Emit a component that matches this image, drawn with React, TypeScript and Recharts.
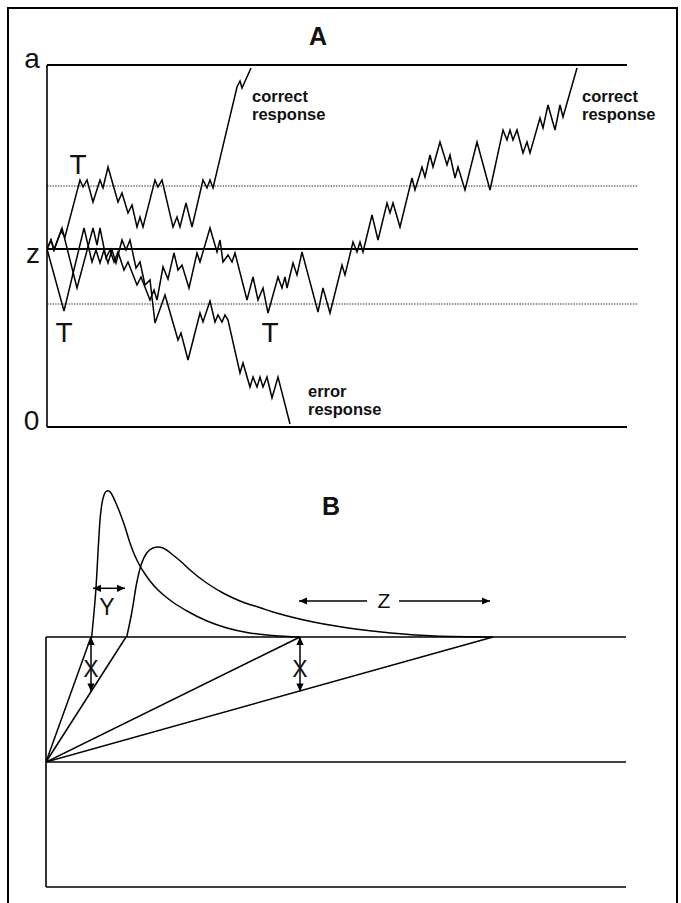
import React from "react";
import { LineChart, Line, XAxis, YAxis, ReferenceLine, ReferenceDot } from "recharts";

// ---------- Panel A: diffusion (random-walk) sample paths ----------
// time units (t) and evidence units (v); boundaries: 0 (error), a (correct), start z
const boundaryA = 362;
const startZ = 178;
const criterionUpper = 241;
const criterionLower = 123;
const timeEndBoundary = 580;
const timeEndMid = 591;

// path that crosses the upper criterion early and ends at "correct response"
const walkCorrectFast: [number, number][] = [
  [0, 178], [4, 187], [7, 177], [14, 196], [18, 190], [33, 247], [36, 240], [40, 247], [46, 225],
  [53, 247], [56, 239], [61, 260], [71, 225], [75, 234], [81, 214], [85, 222], [90, 200], [93, 210],
  [96, 200], [108, 247], [111, 240], [115, 247], [126, 200], [130, 210], [133, 200], [139, 224],
  [145, 200], [156, 247], [160, 239], [163, 247], [166, 239], [190, 340], [193, 346], [195, 339], [204, 359],
];

// path that crosses the lower criterion early and ends at "error response"
const walkError: [number, number][] = [
  [0, 178], [17, 116], [37, 199], [45, 165], [49, 177], [53, 164], [57, 177], [61, 164], [65, 177],
  [69, 164], [75, 187], [79, 177], [83, 187], [89, 159], [93, 165], [98, 142], [103, 147], [108, 104],
  [118, 132], [131, 87], [134, 94], [141, 67], [153, 114], [156, 105], [163, 126], [168, 105],
  [171, 112], [175, 105], [178, 112], [181, 107], [193, 54], [196, 64], [203, 40], [206, 50],
  [210, 40], [213, 50], [216, 40], [220, 50], [225, 29], [231, 50], [243, 3],
];

// slow path: crosses lower criterion late, then ends at "correct response"
const walkCorrectSlow: [number, number][] = [
  [0, 178], [4, 187], [7, 177], [15, 199], [30, 139], [46, 199], [50, 182], [53, 199], [59, 169],
  [63, 177], [67, 165], [71, 175], [77, 157], [81, 165], [90, 142], [94, 150], [103, 127], [107, 137],
  [110, 127], [116, 160], [121, 148], [127, 174], [131, 157], [135, 162], [142, 139], [150, 174],
  [153, 165], [163, 199], [170, 175], [173, 187], [176, 165], [181, 172], [185, 165], [188, 174],
  [200, 127], [206, 150], [211, 127], [216, 139], [221, 114], [231, 150], [235, 139], [238, 150],
  [240, 139], [246, 164], [250, 152], [255, 175], [271, 115], [276, 139], [283, 114], [295, 162],
  [298, 152], [306, 185], [310, 175], [313, 185], [316, 175], [325, 212], [331, 187], [340, 224],
  [343, 214], [346, 224], [353, 200], [365, 249], [368, 237], [375, 260], [378, 250], [383, 272],
  [386, 260], [393, 285], [400, 262], [403, 272], [408, 249], [411, 260], [418, 237], [430, 285],
  [443, 237], [456, 297], [460, 287], [463, 297], [466, 287], [470, 297], [476, 274], [480, 285],
  [483, 274], [493, 309], [496, 299], [501, 322], [508, 297], [513, 322], [516, 310], [530, 359],
];

// label anchors (t, v) for panel A
const titleA: [number, number] = [271, 382];
const boundaryLabels = ["a", "z", "0"];
const boundaryLabelPos: [number, number][] = [[-15, 359], [-14, 164], [-15.5, -3]];
const tLabelPos: [number, number][] = [[31, 253], [17, 85], [223, 85]];
const correctLabelPos: [number, number][] = [[205, 325], [535, 325]];
const errorLabelPos: [number, number] = [261, 30];

// ---------- Panel B: RT distributions and drift fan ----------
const boundaryB = 250;
const startB = 125;
const timeEndB = 580;
const fanEnds = [45, 80, 254, 447];

const densityFast: [number, number][] = [
  [45.7, 250], [47.3, 267], [50, 299], [52.3, 340], [54, 367], [55.7, 382], [58, 392], [60, 395.5],
  [62.3, 396.3], [65, 394], [69, 386], [74, 374], [79, 360], [84, 344], [89, 331], [94, 321], [99, 313],
  [104, 306], [112, 297], [120, 290], [128, 284], [141, 276], [161, 266], [181, 259], [201, 254.5],
  [227, 251.5], [254, 250],
];
const densitySlow: [number, number][] = [
  [80.7, 250], [85.7, 274], [90.7, 304], [95.7, 324], [100.7, 334], [107, 339], [112.3, 340], [117, 339],
  [127, 332], [136.6, 324], [144, 317], [160.7, 304], [177, 294], [194, 286], [215, 279], [227, 275],
  [258, 267], [302, 259], [345, 254], [389, 251], [447, 250],
];

// arrows: [t, v, headDirection]
const arrowY: [number, number, string][] = [[47, 298.7, "left"], [79, 298.7, "right"]];
const arrowZLeft: [number, number, string][] = [[253, 286, "left"], [321, 286, "none"]];
const arrowZRight: [number, number, string][] = [[353, 286, "none"], [444, 286, "right"]];
const arrowX1: [number, number, string][] = [[45, 250, "up"], [45, 195.5, "down"]];
const arrowX2: [number, number, string][] = [[254, 250, "up"], [254, 195.5, "down"]];

const titleB: [number, number] = [285, 372];
const labelY: [number, number] = [61, 272];
const labelZ: [number, number] = [338, 279];
const labelX: [number, number][] = [[45, 210], [254, 210]];

// ---------- helpers ----------
const FONT = '"Liberation Sans", Arial, Helvetica, sans-serif';
const rows = (pairs: [number, number][]) => pairs.map(([t, v]) => ({ t, v }));
const arrowRows = (pts: [number, number, string][]) => pts.map(([t, v, dir]) => ({ t, v, dir }));

const textShape = (lines: string[], size: number, weight: number, anchor: string, gap = 0) => (p: any) => (
  <text
    x={p.cx}
    y={p.cy}
    fontFamily={FONT}
    fontSize={size}
    fontWeight={weight}
    textAnchor={anchor}
    fill="#111"
  >
    {lines.map((l, i) => (
      <tspan key={i} x={p.cx} dy={i === 0 ? 0 : gap}>
        {l}
      </tspan>
    ))}
  </text>
);

const arrowHead = (p: any) => {
  const { cx, cy, payload, index } = p;
  const d = payload && payload.dir;
  const L = 8;
  const W = 3.6;
  let pts = "";
  if (d === "left") pts = `${cx},${cy} ${cx + L},${cy - W} ${cx + L},${cy + W}`;
  else if (d === "right") pts = `${cx},${cy} ${cx - L},${cy - W} ${cx - L},${cy + W}`;
  else if (d === "up") pts = `${cx},${cy} ${cx - W},${cy + L} ${cx + W},${cy + L}`;
  else if (d === "down") pts = `${cx},${cy} ${cx - W},${cy - L} ${cx + W},${cy - L}`;
  if (!pts) return <g key={`ah-${index}`} />;
  return <polygon key={`ah-${index}`} points={pts} fill="#000" />;
};

const INK = "#000";

export default function App() {
  return (
    <div
      style={{
        position: "absolute",
        left: 0,
        top: 0,
        width: 681,
        height: 903,
        overflow: "hidden",
        background: "#fff",
      }}
    >
      <div
        style={{
          position: "absolute",
          left: 7,
          top: 7,
          width: 671,
          height: 1000,
          border: "2px solid #000",
          boxSizing: "border-box",
        }}
      />
      {/* Panel A */}
      <div style={{ position: "absolute", left: 0, top: 0 }}>
        <LineChart width={681} height={460} margin={{ top: 65, right: 43, bottom: 33, left: 47 }}>
          <XAxis type="number" dataKey="t" domain={[0, timeEndMid]} hide allowDataOverflow />
          <YAxis type="number" dataKey="v" domain={[0, boundaryA]} hide allowDataOverflow />
          <ReferenceLine
            segment={[{ x: 0, y: criterionUpper }, { x: timeEndMid, y: criterionUpper }]}
            stroke="#777"
            strokeWidth={1.3}
            strokeDasharray="1.5 1.2"
          />
          <ReferenceLine
            segment={[{ x: 0, y: criterionLower }, { x: timeEndMid, y: criterionLower }]}
            stroke="#777"
            strokeWidth={1.3}
            strokeDasharray="1.5 1.2"
          />
          <ReferenceLine segment={[{ x: 0, y: boundaryA }, { x: timeEndBoundary, y: boundaryA }]} stroke={INK} strokeWidth={1.8} />
          <ReferenceLine segment={[{ x: 0, y: startZ }, { x: timeEndMid, y: startZ }]} stroke={INK} strokeWidth={1.8} />
          <ReferenceLine segment={[{ x: 0, y: 0 }, { x: timeEndBoundary, y: 0 }]} stroke={INK} strokeWidth={1.8} />
          <ReferenceLine segment={[{ x: 0, y: 0 }, { x: 0, y: boundaryA }]} stroke={INK} strokeWidth={1.6} />
          <Line data={rows(walkCorrectFast)} dataKey="v" type="linear" stroke={INK} strokeWidth={1.5} dot={false} isAnimationActive={false} />
          <Line data={rows(walkError)} dataKey="v" type="linear" stroke={INK} strokeWidth={1.5} dot={false} isAnimationActive={false} />
          <Line data={rows(walkCorrectSlow)} dataKey="v" type="linear" stroke={INK} strokeWidth={1.5} dot={false} isAnimationActive={false} />
          <ReferenceDot x={titleA[0]} y={titleA[1]} r={0} ifOverflow="visible" shape={textShape(["A"], 25, 700, "middle")} />
          {boundaryLabels.map((s, i) => (
            <ReferenceDot
              key={`b${i}`}
              x={boundaryLabelPos[i][0]}
              y={boundaryLabelPos[i][1]}
              r={0}
              ifOverflow="visible"
              shape={textShape([s], 28, 400, "middle")}
            />
          ))}
          {tLabelPos.map((p, i) => (
            <ReferenceDot key={`t${i}`} x={p[0]} y={p[1]} r={0} ifOverflow="visible" shape={textShape(["T"], 28, 400, "middle")} />
          ))}
          {correctLabelPos.map((p, i) => (
            <ReferenceDot
              key={`c${i}`}
              x={p[0]}
              y={p[1]}
              r={0}
              ifOverflow="visible"
              shape={textShape(["correct", "response"], 16.5, 700, "start", 18)}
            />
          ))}
          <ReferenceDot
            x={errorLabelPos[0]}
            y={errorLabelPos[1]}
            r={0}
            ifOverflow="visible"
            shape={textShape(["error", "response"], 16.5, 700, "start", 18)}
          />
        </LineChart>
      </div>
      {/* Panel B */}
      <div style={{ position: "absolute", left: 0, top: 460 }}>
        <LineChart width={681} height={443} margin={{ top: 27, right: 55, bottom: 16, left: 46 }}>
          <XAxis type="number" dataKey="t" domain={[0, timeEndB]} hide allowDataOverflow />
          <YAxis type="number" dataKey="v" domain={[0, 400]} hide allowDataOverflow />
          <ReferenceLine segment={[{ x: 0, y: boundaryB }, { x: timeEndB, y: boundaryB }]} stroke={INK} strokeWidth={1.6} />
          <ReferenceLine segment={[{ x: 0, y: startB }, { x: timeEndB, y: startB }]} stroke={INK} strokeWidth={1.6} />
          <ReferenceLine segment={[{ x: 0, y: 0 }, { x: timeEndB, y: 0 }]} stroke={INK} strokeWidth={1.6} />
          <ReferenceLine segment={[{ x: 0, y: 0 }, { x: 0, y: boundaryB }]} stroke={INK} strokeWidth={1.6} />
          {fanEnds.map((e, i) => (
            <Line
              key={`f${i}`}
              data={rows([[0, startB], [e, boundaryB]])}
              dataKey="v"
              type="linear"
              stroke={INK}
              strokeWidth={1.5}
              dot={false}
              isAnimationActive={false}
            />
          ))}
          <Line data={rows(densityFast)} dataKey="v" type="monotone" stroke={INK} strokeWidth={1.5} dot={false} isAnimationActive={false} />
          <Line data={rows(densitySlow)} dataKey="v" type="monotone" stroke={INK} strokeWidth={1.5} dot={false} isAnimationActive={false} />
          {[arrowY, arrowZLeft, arrowZRight, arrowX1, arrowX2].map((a, i) => (
            <Line
              key={`a${i}`}
              data={arrowRows(a)}
              dataKey="v"
              type="linear"
              stroke={INK}
              strokeWidth={1.5}
              dot={arrowHead}
              activeDot={false}
              isAnimationActive={false}
            />
          ))}
          <ReferenceDot x={titleB[0]} y={titleB[1]} r={0} ifOverflow="visible" shape={textShape(["B"], 25, 700, "middle")} />
          <ReferenceDot x={labelY[0]} y={labelY[1]} r={0} ifOverflow="visible" shape={textShape(["Y"], 23, 400, "middle")} />
          <ReferenceDot x={labelZ[0]} y={labelZ[1]} r={0} ifOverflow="visible" shape={textShape(["Z"], 21, 400, "middle")} />
          {labelX.map((p, i) => (
            <ReferenceDot key={`x${i}`} x={p[0]} y={p[1]} r={0} ifOverflow="visible" shape={textShape(["X"], 23, 400, "middle")} />
          ))}
        </LineChart>
      </div>
    </div>
  );
}
